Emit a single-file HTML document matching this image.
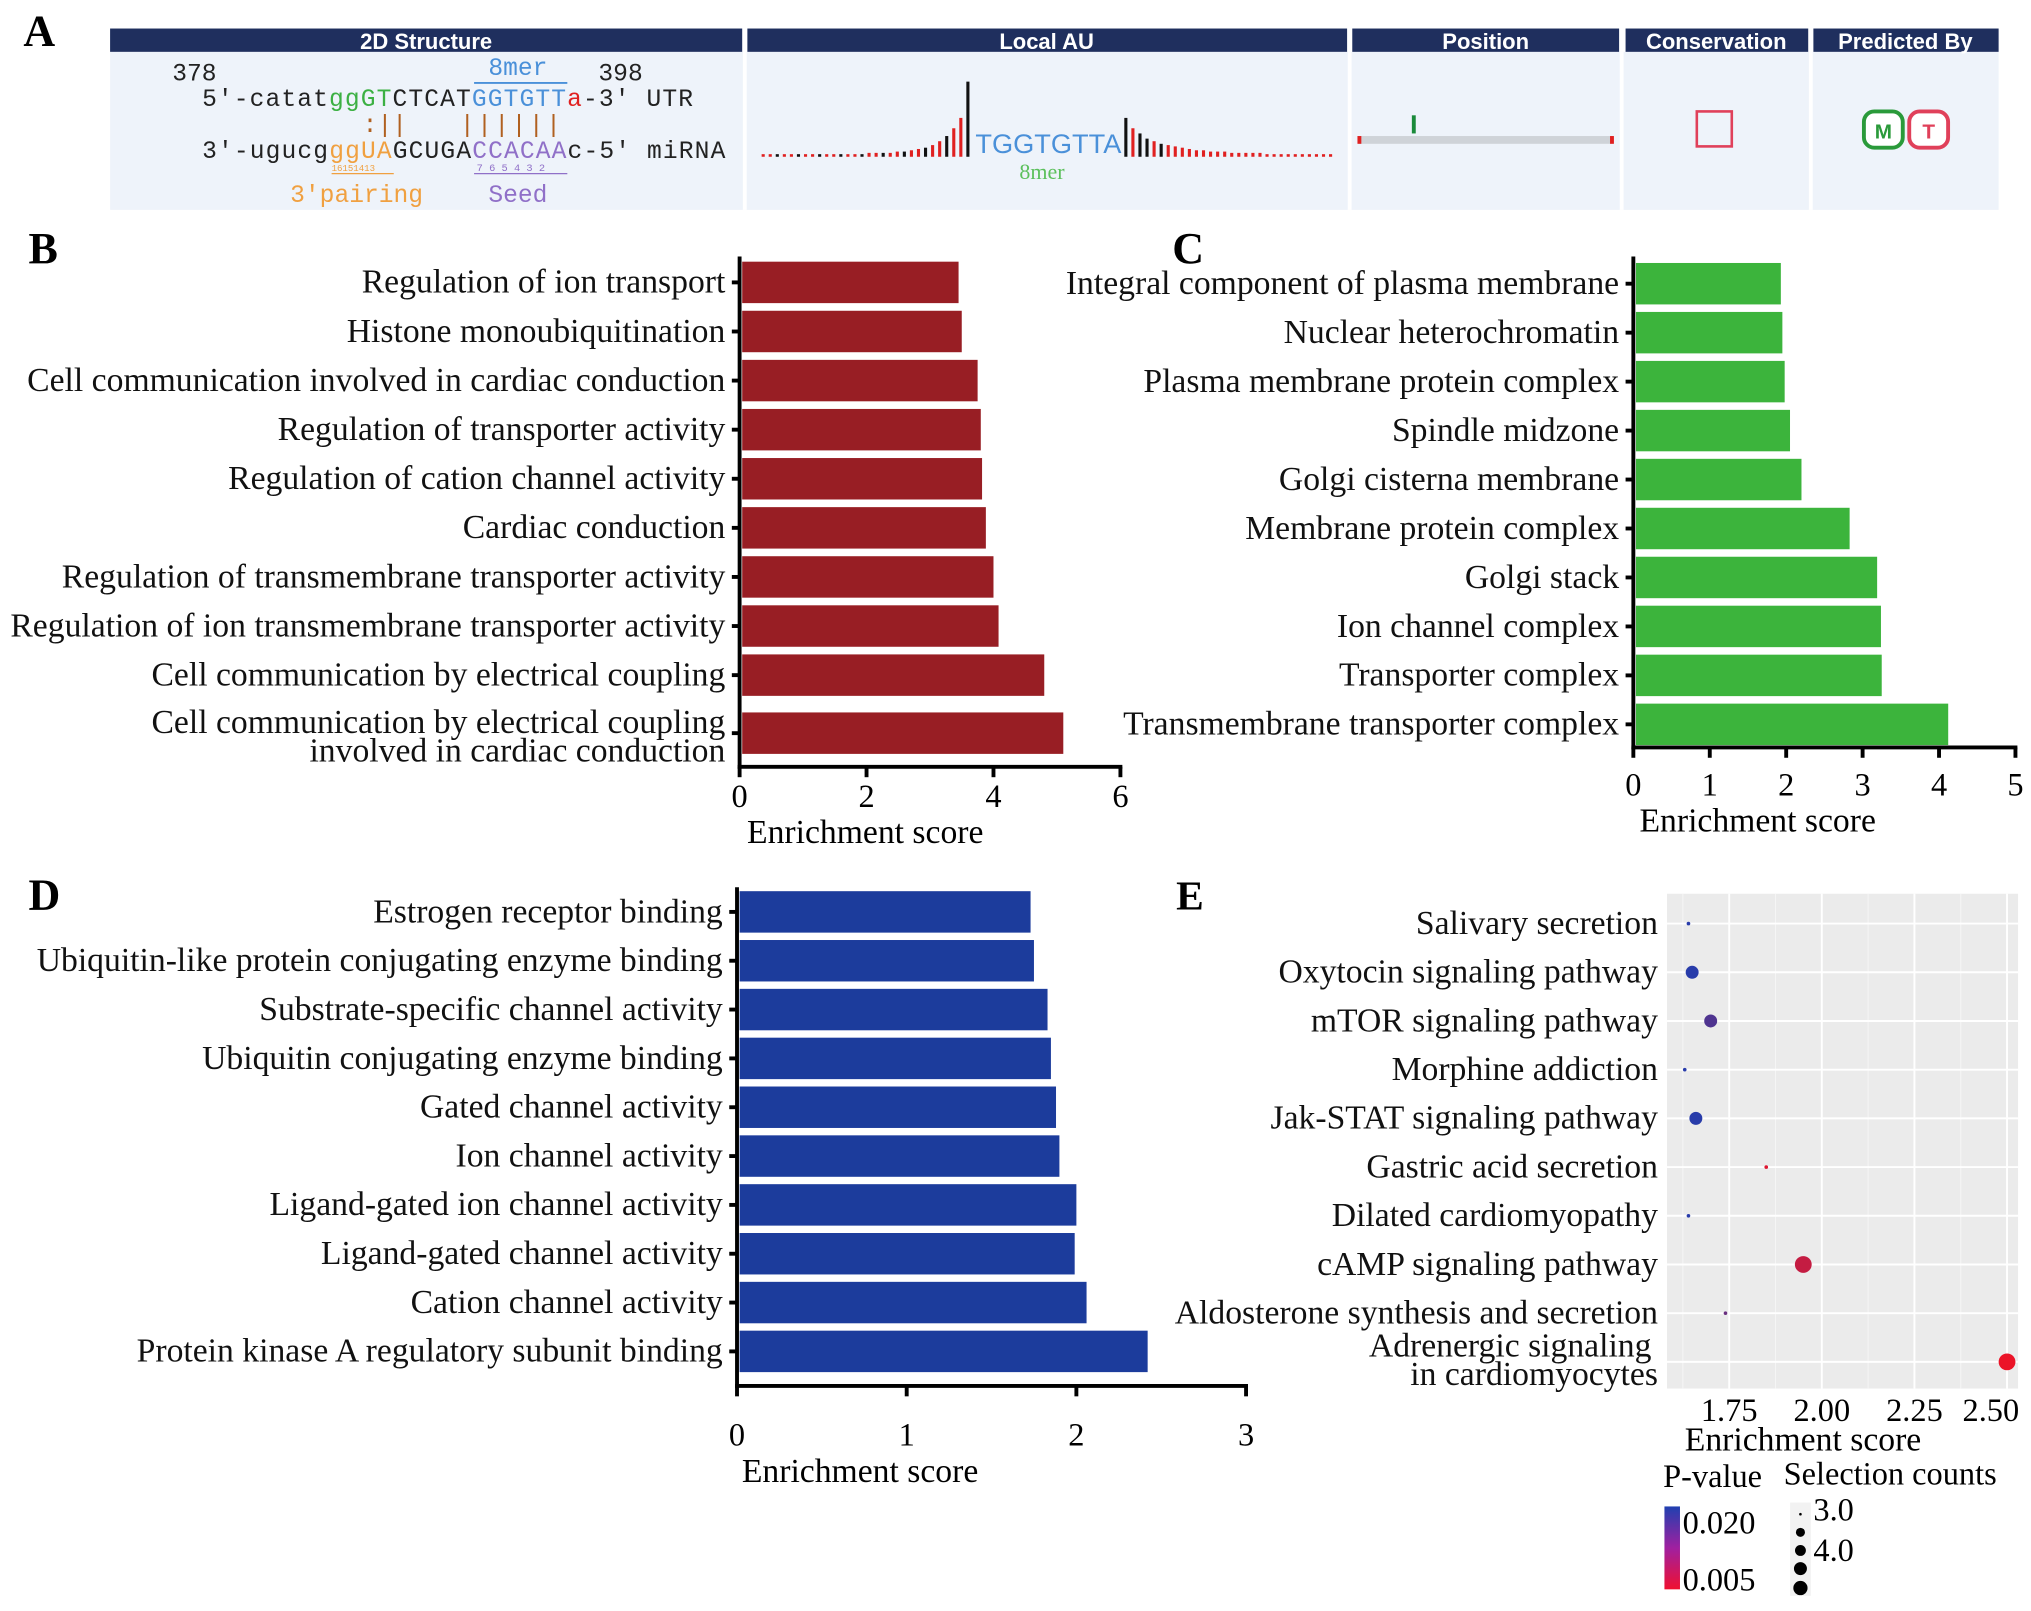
<!DOCTYPE html>
<html><head><meta charset="utf-8"><style>
html,body{margin:0;padding:0;background:#fff}
svg{display:block}
text{font-family:"Liberation Serif",serif}
.sans{font-family:"Liberation Sans",sans-serif}
.mono{font-family:"Liberation Mono",monospace}
</style></head><body>
<svg id="fig" width="2031" height="1611" viewBox="0 0 1568 1243.7" xmlns="http://www.w3.org/2000/svg">
<g>
<text x="18" y="35" font-size="34" font-weight="bold">A</text>
<rect x="85" y="40" width="1458" height="122" fill="#eef3fa"/>
<g fill="#1f2f5e">
<rect x="85" y="22" width="488" height="18"/>
<rect x="577" y="22" width="463" height="18"/>
<rect x="1044" y="22" width="206" height="18"/>
<rect x="1255" y="22" width="141" height="18"/>
<rect x="1400" y="22" width="143" height="18"/>
</g>
<g fill="#fff" font-size="17" font-weight="bold" text-anchor="middle" class="sans">
<text class="sans" x="329" y="38">2D Structure</text>
<text class="sans" x="808" y="38">Local AU</text>
<text class="sans" x="1147" y="38">Position</text>
<text class="sans" x="1325" y="38">Conservation</text>
<text class="sans" x="1471" y="38">Predicted By</text>
</g>
<line x1="575" y1="40" x2="575" y2="162" stroke="#fff" stroke-width="3"/>
<line x1="1042" y1="40" x2="1042" y2="162" stroke="#fff" stroke-width="3"/>
<line x1="1252" y1="40" x2="1252" y2="162" stroke="#fff" stroke-width="3"/>
<line x1="1398" y1="40" x2="1398" y2="162" stroke="#fff" stroke-width="3"/>
<g class="mono" font-size="19" fill="#222">
<text class="mono" x="133" y="62">378</text>
<text class="mono" x="462" y="62">398</text>
<text class="mono" x="377" y="58" fill="#4a90d9">8mer</text>
<line x1="366" y1="64" x2="438" y2="64" stroke="#4a90d9" stroke-width="1.5"/>
<text class="mono" x="156" y="82" textLength="379">5'-catat<tspan fill="#3cb043">ggGT</tspan>CTCAT<tspan fill="#4a90d9">GGTGTT</tspan><tspan fill="#e02020">a</tspan>-3' UTR</text>
<text class="mono" x="156" y="122" textLength="404">3'-ugucg<tspan fill="#f0a040">ggUA</tspan>GCUGA<tspan fill="#9070c8">CCACAA</tspan>c-5' miRNA</text>
<text class="mono" x="280" y="102" fill="#b06020">:||</text>
<text class="mono" x="355" y="102" fill="#b06020" textLength="78">||||||</text>
<text class="mono" x="224" y="156" fill="#f0a040">3'pairing</text>
<text class="mono" x="377" y="156" fill="#9070c8">Seed</text>
<line x1="256" y1="134" x2="304" y2="134" stroke="#f0a040"/>
<line x1="366" y1="134" x2="438" y2="134" stroke="#9070c8"/>
<text class="mono" x="256" y="132" font-size="7" fill="#f0a040">16151413</text>
<text class="mono" x="368" y="132" font-size="8" fill="#9070c8">7 6 5 4 3 2</text>
</g>
<g id="au"></g>
<text class="sans" x="753" y="118" font-size="21" fill="#4a90d9">TGGTGTTA</text>
<text x="787" y="138" font-size="17" fill="#5cc05c">8mer</text>
<rect x="1049" y="105" width="196" height="6" fill="#cfd3d8"/>
<rect x="1048" y="105" width="3" height="6" fill="#e02020"/>
<rect x="1243" y="105" width="3" height="6" fill="#e02020"/>
<rect x="1090" y="89" width="3" height="14" fill="#1a8a3a"/>
<rect x="1310" y="86" width="27" height="27" fill="none" stroke="#e0405a" stroke-width="2"/>
<rect x="1439" y="86" width="30" height="28" rx="8" fill="#fff" stroke="#2a9a3a" stroke-width="3"/>
<text class="sans" x="1454" y="107" font-size="16" font-weight="bold" text-anchor="middle" fill="#2a9a3a">M</text>
<rect x="1474" y="86" width="30" height="28" rx="8" fill="#fff" stroke="#e0405a" stroke-width="3"/>
<text class="sans" x="1489" y="107" font-size="16" font-weight="bold" text-anchor="middle" fill="#e0405a">T</text>
</g>
<g id="pb"></g>
<g id="pc"></g>
<g id="pd"></g>
<g id="pe"></g>
</svg>
<script>
const NS="http://www.w3.org/2000/svg";
const auLeft=[2,2,2,2,2,2,2,2,2,2,2,2,2,2,2,3,3,3,3,4,4,5,6,7,9,12,16,22,30,58];
const auRight=[30,22,18,14,12,10,9,8,7,6,5,5,4,4,4,3,3,3,3,3,2,2,2,2,2,2,2,2,2,2];
const bCats=["Regulation of ion transport","Histone monoubiquitination","Cell communication involved in cardiac conduction","Regulation of transporter activity","Regulation of cation channel activity","Cardiac conduction","Regulation of transmembrane transporter activity","Regulation of ion transmembrane transporter activity","Cell communication by electrical coupling","Cell communication by electrical coupling|involved in cardiac conduction"];
const bVals=[3.45,3.5,3.75,3.8,3.82,3.88,4.0,4.08,4.8,5.1];
const bTicks=[0,2,4,6];
const cCats=["Integral component of plasma membrane","Nuclear heterochromatin","Plasma membrane protein complex","Spindle midzone","Golgi cisterna membrane","Membrane protein complex","Golgi stack","Ion channel complex","Transporter complex","Transmembrane transporter complex"];
const cVals=[1.93,1.95,1.98,2.05,2.2,2.83,3.19,3.24,3.25,4.12];
const cTicks=[0,1,2,3,4,5];
const dCats=["Estrogen receptor binding","Ubiquitin-like protein conjugating enzyme binding","Substrate-specific channel activity","Ubiquitin conjugating enzyme binding","Gated channel activity","Ion channel activity","Ligand-gated ion channel activity","Ligand-gated channel activity","Cation channel activity","Protein kinase A regulatory subunit binding"];
const dVals=[1.73,1.75,1.83,1.85,1.88,1.9,2.0,1.99,2.06,2.42];
const dTicks=[0,1,2,3];
const eCats=["Salivary secretion","Oxytocin signaling pathway","mTOR signaling pathway","Morphine addiction","Jak-STAT signaling pathway","Gastric acid secretion","Dilated cardiomyopathy","cAMP signaling pathway","Aldosterone synthesis and secretion","Adrenergic signaling|in cardiomyocytes"];
const eScores=[1.64,1.65,1.70,1.63,1.66,1.85,1.64,1.95,1.74,2.50];
const ePvals=[0.020,0.020,0.017,0.020,0.020,0.006,0.020,0.008,0.015,0.005];
const eCounts=[3.0,4.0,4.0,3.0,4.0,3.0,3.0,4.5,3.0,4.5];
const eTicks=[1.75,2.0,2.25,2.5];

function el(tag,attrs,parent,txt){const e=document.createElementNS(NS,tag);for(const k in attrs)e.setAttribute(k,attrs[k]);if(txt!==undefined)e.textContent=txt;parent.appendChild(e);return e;}
const FS=26;

(function(){const g=document.getElementById('au');const base=121,w=2.4;
 const lx=i=>588+i*5.45, rx=i=>868+i*5.45;
 auLeft.forEach((h,i)=>{const r=el('rect',{x:lx(i),y:base-h,width:w,height:h,fill:(i%3===2)?'#111':'#e02020'},g);
  
  });
 auRight.forEach((h,i)=>{const r=el('rect',{x:rx(i),y:base-h,width:w,height:h,fill:(i%3===1)?'#e02020':(i<6?'#111':'#e02020')},g);
  
  });
})();

function barPanel(id,label,lx,ly,cats,vals,ticks,x0,pxPerUnit,rowY,barH,axisBottom,axisTop,tickLabY,titleX,titleY,color){
 const g=document.getElementById(id);
 const xs=v=>x0+v*pxPerUnit;
 const t=el('text',{x:lx,y:ly,'font-size':34,'font-weight':'bold'},g,label);
 
 
 cats.forEach((c,i)=>{const y=rowY(i);
  const r=el('rect',{x:x0+2,y:y-barH/2,width:xs(vals[i])-x0-2,height:barH,fill:color},g);
  
  
  el('line',{x1:x0-6,y1:y,x2:x0,y2:y,stroke:'#000','stroke-width':3},g);
  const parts=c.split('|');
  const tx=el('text',{x:x0-11,'font-size':FS,'text-anchor':'end',fill:'#111'},g);
  
  
  if(parts.length===1){tx.setAttribute('y',y+8);tx.textContent=c;}
  else{el('tspan',{x:x0-11,y:y},tx,parts[0]);el('tspan',{x:x0-11,y:y+22},tx,parts[1]);}
 });
 el('line',{x1:x0,y1:axisTop,x2:x0,y2:axisBottom+1.5,stroke:'#000','stroke-width':3},g);
 el('line',{x1:x0-1.5,y1:axisBottom,x2:xs(ticks[ticks.length-1])+1.5,y2:axisBottom,stroke:'#000','stroke-width':3},g);
 ticks.forEach(v=>{el('line',{x1:xs(v),y1:axisBottom,x2:xs(v),y2:axisBottom+8,stroke:'#000','stroke-width':3},g);
  const tl=el('text',{x:xs(v),y:tickLabY,'font-size':25,'text-anchor':'middle'},g,String(v));
  
  });
 const tt=el('text',{x:titleX,y:titleY,'font-size':FS,'text-anchor':'middle'},g,'Enrichment score');
 
 
}
barPanel('pb','B',22,203,bCats,bVals,bTicks,571,49,i=>i<9?218+i*37.9:566,32,592,198,623,668,651,'#981e24');
barPanel('pc','C',905,203,cCats,cVals,cTicks,1261,59,i=>219+i*37.8,32,577,198,614,1357,642,'#3cb43c');
barPanel('pd','D',22,702,dCats,dVals,dTicks,569,131,i=>704+i*37.7,32,1070,685,1116,664,1144,'#1c3c9c');

(function(){const g=document.getElementById('pe');
 const L=1287,R=1558,T=690,B=1072;
 const xs=v=>1335+(v-1.75)*286;
 const ys=i=>713+i*37.6;
 const t=el('text',{x:908,y:702,'font-size':32,'font-weight':'bold'},g,'E');
 
 
 const bg=el('rect',{x:L,y:T,width:R-L,height:B-T,fill:'#ebebeb'},g);
 
 
 [1.625,1.875,2.125,2.375].forEach(v=>el('line',{x1:xs(v),y1:T,x2:xs(v),y2:B,stroke:'#f5f5f5','stroke-width':0.8},g));
 eTicks.forEach(v=>el('line',{x1:xs(v),y1:T,x2:xs(v),y2:B,stroke:'#fff','stroke-width':1.5},g));
 eCats.forEach((c,i)=>el('line',{x1:L,y1:ys(i),x2:R,y2:ys(i),stroke:'#fff','stroke-width':1.5},g));
 const col=p=>{const f=Math.max(0,Math.min(1,(p-0.005)/0.015));const r=Math.round(235+(40-235)*f),gg=Math.round(20+(60-20)*f),b=Math.round(40+(170-40)*f);return `rgb(${r},${gg},${b})`;};
 const rad=c=>c<=3?1.4:(c<4.2?5:6.5);
 eCats.forEach((c,i)=>{
  const d=el('circle',{cx:xs(eScores[i]),cy:ys(i),r:rad(eCounts[i]),fill:col(ePvals[i])},g);
  
  
  const parts=c.split('|');
  const tx=el('text',{x:1280,'font-size':FS,'text-anchor':'end',fill:'#111'},g);
  
  
  if(parts.length===1){tx.setAttribute('y',ys(i)+8);tx.textContent=c;}
  else{el('tspan',{x:1275,y:ys(i)-4},tx,parts[0]);el('tspan',{x:1280,y:ys(i)+18},tx,parts[1]);}
 });
 eTicks.forEach(v=>{const tl=el('text',{x:Math.min(xs(v),1537),y:1097,'font-size':25,'text-anchor':'middle'},g,v.toFixed(2));
  
  });
 const tt=el('text',{x:1392,y:1120,'font-size':FS,'text-anchor':'middle'},g,'Enrichment score');
 
 
 const l1=el('text',{x:1284,y:1148,'font-size':25},g,'P-value');
 
 
 const l2=el('text',{x:1377,y:1146,'font-size':25},g,'Selection counts');
 
 
 const defs=el('defs',{},g);const lg=el('linearGradient',{id:'pg',x1:0,y1:0,x2:0,y2:1},defs);
 el('stop',{offset:0,'stop-color':'#2040b0'},lg);el('stop',{offset:0.5,'stop-color':'#a020a0'},lg);el('stop',{offset:1,'stop-color':'#f01030'},lg);
 const cb=el('rect',{x:1285,y:1163,width:12,height:64,fill:'url(#pg)'},g);
 
 
 el('text',{x:1299,y:1184,'font-size':25},g,'0.020');
 el('text',{x:1299,y:1228,'font-size':25},g,'0.005');
 el('rect',{x:1382,y:1160,width:16,height:72,fill:'#f2f2f2'},g);
 [[1169,1],[1183,3.5],[1197,4.2],[1211,5],[1226,5.5]].forEach(p=>{const c=el('circle',{cx:1390,cy:p[0],r:p[1],fill:'#000'},g);
  
  });
 el('text',{x:1400,y:1174,'font-size':25},g,'3.0');
 el('text',{x:1400,y:1205,'font-size':25},g,'4.0');
})();
</script>
</body></html>
